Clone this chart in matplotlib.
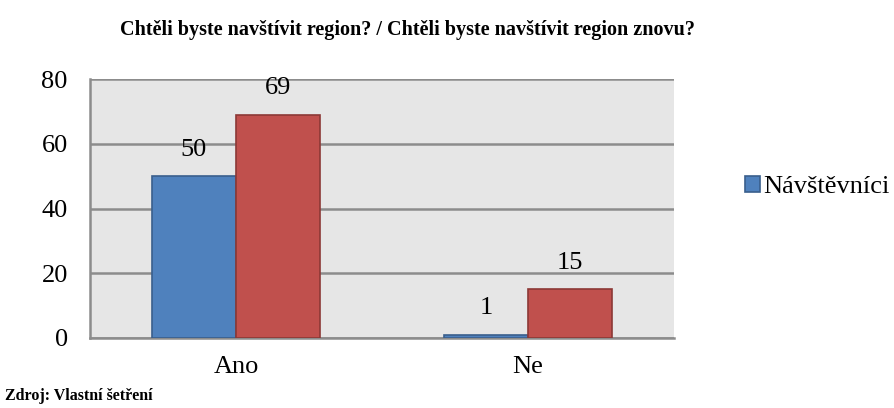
import matplotlib
matplotlib.use("Agg")
import numpy as np
import matplotlib.pyplot as plt
from matplotlib.patches import Patch

categories = ["Ano", "Ne"]
navstevnici = [50, 1]
znovu = [69, 15]
legend_label = "Návštěvníci"
title = "Chtěli byste navštívit region? / Chtěli byste navštívit region znovu?"
source = "Zdroj: Vlastní šetření"
yticks = [0, 20, 40, 60, 80]

BLUE, BLUE_EDGE = "#4F81BD", "#3A5F8C"
RED, RED_EDGE = "#C0504D", "#8C3836"
GRID = "#8C8C8C"

plt.rcParams["font.family"] = ["Liberation Serif", "DejaVu Serif"]

fig = plt.figure(figsize=(8.95, 4.08), dpi=100)
ax = fig.add_axes([90 / 895, 70 / 408, 584 / 895, 259 / 408])
ax.set_facecolor("#E6E6E6")

x = np.arange(len(categories))
w = 0.288
b1 = ax.bar(x - w / 2, navstevnici, w, color=BLUE, edgecolor=BLUE_EDGE, linewidth=1.2, zorder=3)
b2 = ax.bar(x + w / 2, znovu, w, color=RED, edgecolor=RED_EDGE, linewidth=1.2, zorder=3)

for bars, vals in ((b1, navstevnici), (b2, znovu)):
    for r, v in zip(bars, vals):
        ax.annotate(str(v), (r.get_x() + r.get_width() / 2, v), xytext=(0, 19),
                    textcoords="offset points", ha="center", va="center", fontsize=19)

ax.set_xlim(-0.5, 1.5)
ax.set_ylim(0, 80)
ax.set_yticks(yticks)
ax.set_xticks(x)
ax.set_xticklabels(categories)
ax.tick_params(axis="both", length=0, labelsize=19)
ax.tick_params(axis="y", pad=16)
ax.tick_params(axis="x", pad=13)
ax.yaxis.grid(True, color=GRID, linewidth=1.8, zorder=1)
ax.set_axisbelow(True)
for s in ["top", "right"]:
    ax.spines[s].set_visible(False)
for s in ["left", "bottom"]:
    ax.spines[s].set_color(GRID)
    ax.spines[s].set_linewidth(1.8)

fig.text(408 / 895, 1 - 30 / 408, title, ha="center", va="center",
         fontsize=14.5, fontweight="bold")
fig.text(5 / 895, 1 - 396 / 408, source, ha="left", va="center",
         fontsize=11.5, fontweight="bold")

handle = Patch(facecolor=BLUE, edgecolor=BLUE_EDGE, linewidth=1.2)
fig.legend([handle], [legend_label], loc="center left",
           bbox_to_anchor=(745 / 895, 1 - 187 / 408), frameon=False,
           fontsize=19, handlelength=0.55, handleheight=0.55, handletextpad=0.15,
           borderpad=0, borderaxespad=0)

fig.savefig("out.png", dpi=100)
